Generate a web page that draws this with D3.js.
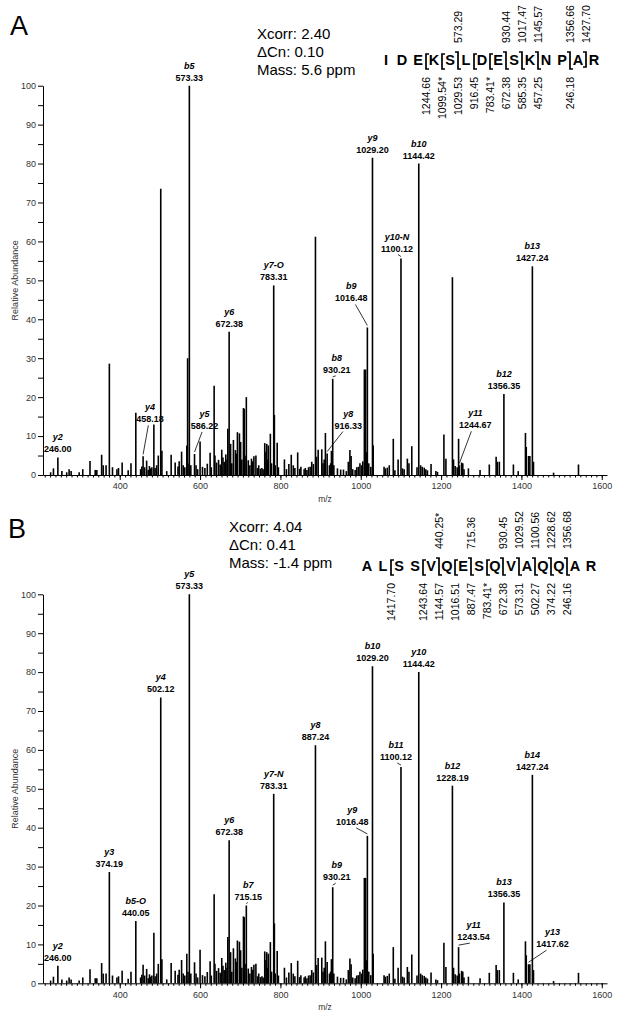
<!DOCTYPE html>
<html><head><meta charset="utf-8">
<script src="https://cdn.jsdelivr.net/npm/d3@7"></script>
<style>
body{margin:0;background:#fff;}
svg{display:block;font-family:"Liberation Sans",Arial,sans-serif;}
</style>
</head><body>
<svg id="c" width="622" height="1018"></svg>
<script>
// ---------------- DATA ----------------
// shared MS/MS spectrum (m/z, relative abundance)
const peakMz = [228,235,246.00,256,268,274,279,299,308,326,339,343,355,359,366,374.19,382,393,397,406,421,428,440.05,458.18,467,471,477,485,492,496,502.12,505,517,528,538,554,558,567,573.33,577,586.22,590,600,606,618,625,635,637,646,654,660,664,669,672.38,676,683,688,693,698,701,708,710,715.15,720,728,734,739,746,757,761,766,770,775,783.31,785,787,792,810,821,827,832,843,851,859,866,874,878,887.24,890,894,903,912,916.33,922,927,930.21,933,942,950,957,969,973,976,986,994,998,1002,1009,1012,1014,1016.48,1025,1029.20,1031,1058,1061,1066,1071,1081,1093,1100.12,1104,1116,1120,1127,1144.42,1149,1153,1158,1162,1175,1187,1191,1207,1212,1228.19,1231,1235,1243.54,1245.5,1251,1254,1268,1297,1320,1337,1340,1345,1356.35,1380,1392,1410,1412,1417.62,1421,1427.24,1430,1480,1542];
const peakInt = [0.7,1.7,4.5,1.0,0.7,1.5,1.0,0.7,1.5,3.6,1.3,1.3,5.2,2.5,2.5,28.6,2.0,1.5,1.8,3.2,1.2,3.0,16.0,4.8,3.7,1.3,1.7,13.0,2.5,5.0,73.5,6.2,1.0,5.2,3.2,6.0,2.5,7.6,100,2.5,5.4,2.5,8.6,2.1,2.9,5.7,22.9,5.0,3.9,6.5,3.4,5.3,11.9,36.8,8.0,9.0,6.4,11.0,10.7,8.5,17.2,17.0,20.0,3.8,4.2,4.8,5.0,2.5,1.5,8.2,8.0,7.6,10.6,48.7,15.4,2.5,8.3,4.0,2.8,5.2,2.5,5.8,2.1,1.5,1.3,2.1,3.4,61.2,4.7,6.5,6.6,10.8,5.5,2.5,6.2,24.7,2.5,1.7,1.4,1.4,3.4,6.4,4.9,1.3,2.1,3.0,2.5,27.1,27.1,5.9,37.9,2.1,81.5,7.6,2.1,1.7,1.9,2.5,9.3,4.0,55.6,1.7,4.2,3.0,7.4,80.0,2.5,2.1,1.9,1.5,2.8,1.0,0.8,10.4,4.2,50.8,4.0,2.3,9.3,2.5,3.2,3.0,1.7,1.3,2.7,4.7,3.4,3.4,20.8,2.7,1.0,10.8,7.2,4.9,4.9,53.6,3.4,0.6,2.7];
// low-level baseline peaks (dense region)
const smallMz = [452,455,462,474,480,488,545,548,562,570,594,612,628,641,650,657,667,679,690,704,712,724,731,743,750,754,764,768,778,795,815,836,848,862,870,882,906,909,925,964,980,990,1005,1020,1085,1108,1140,1166,1240,1257];
const smallInt = [1.5,2.2,2.0,2.3,2.0,1.8,2.2,3.5,2.0,3.0,1.5,1.8,2.0,3.2,2.7,4.5,4.0,3.0,5.5,4.0,5.0,2.5,3.5,1.8,1.6,1.8,6.0,4.0,3.0,2.0,1.5,1.8,1.6,1.8,2.0,2.8,3.0,4.0,3.0,1.0,1.5,2.0,3.5,3.0,1.2,1.5,2.0,1.2,2.0,1.5];
const extraMzA = [569];
const extraIntA = [30];

const xTickVals = [400,600,800,1000,1200,1400,1600];
const yTickVals = [0,10,20,30,40,50,60,70,80,90,100];

// panel A annotations
const annIonA  = ["y2","y4","b5","y5","y6","y7-O","y8","b8","b9","y9","y10-N","b10","y11","b12","b13"];
const annMzA   = [246.00,458.18,573.33,586.22,672.38,783.31,916.33,930.21,1016.48,1029.20,1100.12,1144.42,1244.67,1356.35,1427.24];
const annTextA = ["246.00","458.18","573.33","586.22","672.38","783.31","916.33","930.21","1016.48","1029.20","1100.12","1144.42","1244.67","1356.35","1427.24"];
// panel B annotations
const annIonB  = ["y2","y3","b5-O","y4","y5","y6","b7","y7-N","y8","b9","y9","b10","b11","y10","b12","y11","b13","y13","b14"];
const annMzB   = [246.00,374.19,440.05,502.12,573.33,672.38,715.15,783.31,887.24,930.21,1016.48,1029.20,1100.12,1144.42,1228.19,1243.54,1356.35,1417.62,1427.24];
const annTextB = ["246.00","374.19","440.05","502.12","573.33","672.38","715.15","783.31","887.24","930.21","1016.48","1029.20","1100.12","1144.42","1228.19","1243.54","1356.35","1417.62","1427.24"];

const scoreA = ["Xcorr: 2.40","\u0394Cn: 0.10","Mass: 5.6 ppm"];
const scoreB = ["Xcorr: 4.04","\u0394Cn: 0.41","Mass: -1.4 ppm"];

const seqA = "IDEKSLDESKNPAR";
const bCutA = [4,7,8,9,11,12];
const bTextA = ["573.29","930.44","1017.47","1145.57","1356.66","1427.70"];
const yCutA = [2,3,4,5,6,7,8,9,11];
const yTextA = ["1244.66","1099.54*","1029.53","916.45","783.41*","672.38","585.35","457.25","246.18"];

const seqB = "ALSSVQESQVAQQAR";
const bCutB = [4,6,8,9,10,11,12];
const bTextB = ["440.25*","715.36","930.45","1029.52","1100.56","1228.62","1356.68"];
const yCutB = [1,3,4,5,6,7,8,9,10,11,12];
const yTextB = ["1417.70","1243.64","1144.57","1016.51","887.47","783.41*","672.38","573.31","502.27","374.22","246.16"];

// ---------------- LAYOUT ----------------
const layoutA = {"y4":[7,-34],"y5":[10,-25],"y8":[21,-25],"b8":[4,-6],"b9":[-16,-26],"y10-N":[-4,-7],"y11":[16,-37]};
const layoutB = {"b7":[2,-6],"y9":[-15,-11],"b9":[4,-7],"b11":[-5,-7],"y11":[15,-7],"y13":[24,-17]};

const svg = d3.select("#c");
const x = d3.scaleLinear().domain([209,1613]).range([43,607]);

function panel(cfg){
  const g = svg.append("g");
  const y = d3.scaleLinear().domain([0,100]).range([cfg.bottom,cfg.top]);
  const peaks = peakMz.map((m,i)=>({mz:m,v:peakInt[i]}))
    .concat(cfg.extraMz.map((m,i)=>({mz:m,v:cfg.extraInt[i]})));
  const small = smallMz.map((m,i)=>({mz:m,v:smallInt[i]}));

  g.append("g").selectAll("line").data(small.concat(peaks)).join("line")
    .attr("x1",d=>x(d.mz)).attr("x2",d=>x(d.mz))
    .attr("y1",y(0)).attr("y2",d=>y(d.v))
    .attr("stroke","#000").attr("stroke-width",1.6);

  // y axis
  g.append("g").attr("transform","translate(43,0)")
    .call(d3.axisLeft(y).tickValues(yTickVals).tickSize(5).tickSizeOuter(0).tickPadding(2).tickFormat(d3.format("d")));
  g.append("g").attr("transform","translate(43,0)")
    .call(d3.axisLeft(y).tickValues(d3.range(5,100,10)).tickSize(5).tickSizeOuter(0).tickFormat(""))
    .select(".domain").remove();
  // x axis
  g.append("g").attr("transform",`translate(0,${y(0)})`)
    .call(d3.axisBottom(x).tickValues(xTickVals).tickSize(5).tickSizeOuter(0).tickPadding(3).tickFormat(d3.format("d")));
  g.append("g").attr("transform",`translate(0,${y(0)})`)
    .call(d3.axisBottom(x).tickValues(d3.range(1600-200/15*105,1613,200/15).filter(v=>v>=210)).tickSize(2.5).tickSizeOuter(0).tickFormat(""))
    .select(".domain").remove();
  g.selectAll(".tick text").attr("font-size",9).attr("fill","#333").attr("font-family","Liberation Sans, Arial, sans-serif");
  g.selectAll(".domain,.tick line").attr("stroke","#000");

  g.append("text").attr("transform",`translate(15,${(y(0)+y(100))/2}) rotate(-90)`)
    .attr("text-anchor","middle").attr("dy","0.35em").attr("font-size",9).attr("fill","#333")
    .text("Relative Abundance");
  g.append("text").attr("x",325).attr("y",y(0)+27).attr("text-anchor","middle")
    .attr("font-size",8.5).attr("fill","#333").text("m/z");

  // annotations
  function nearestTop(mz){
    let best = peaks[0];
    peaks.forEach(p=>{ if(Math.abs(p.mz-mz)<Math.abs(best.mz-mz)) best=p; });
    return {px:x(best.mz), top:y(best.v)};
  }
  cfg.annIon.forEach((ion,i)=>{
    const t = nearestTop(cfg.annMz[i]);
    const off = cfg.layout[ion];
    const dx = off?off[0]:0, dy = off?off[1]:-5;
    const lx = t.px+dx, vb = t.top+dy;
    if(off){
      g.append("line").attr("x1",t.px).attr("y1",t.top-2)
        .attr("x2",lx-dx*0.25).attr("y2",vb+3)
        .attr("stroke","#000").attr("stroke-width",0.8);
    }
    g.append("text").attr("x",lx).attr("y",vb).attr("text-anchor","middle")
      .attr("font-size",9).attr("font-weight","bold").text(cfg.annText[i]);
    g.append("text").attr("x",lx).attr("y",vb-12).attr("text-anchor","middle")
      .attr("font-size",9).attr("font-weight","bold").attr("font-style","italic").text(ion);
  });

  // panel letter and scores
  svg.append("text").attr("x",cfg.letterX).attr("y",cfg.letterY).attr("font-size",27).text(cfg.letter);
  svg.append("g").selectAll("text").data(cfg.score).join("text")
    .attr("x",cfg.scoreX).attr("y",(d,i)=>cfg.scoreY+i*17.8).attr("font-size",15).text(d=>d);

  // sequence
  const seq = cfg.seq.split("");
  const sx = d3.scalePoint().domain(d3.range(seq.length)).range([cfg.seqX, cfg.seqX+(seq.length-1)*16]);
  const bl = cfg.seqBase;
  const sg = svg.append("g");
  sg.selectAll("text").data(seq).join("text")
    .attr("x",(d,i)=>sx(i)).attr("y",bl).attr("text-anchor","middle")
    .attr("font-size",14.5).attr("font-weight","bold").text(d=>d);
  const cuts = Array.from(new Set(cfg.bCut.concat(cfg.yCut))).sort((a,b)=>a-b);
  cuts.forEach(c=>{
    const cx = sx(c)+8;
    const hasB = cfg.bCut.includes(c), hasY = cfg.yCut.includes(c);
    let p;
    if(hasB && hasY) p = `M${cx-3},${bl-13}H${cx}V${bl+4}H${cx+3}`;
    else if(hasY) p = `M${cx+3},${bl-11}H${cx}V${bl+4}H${cx+3}`;
    else p = `M${cx-3},${bl-13}H${cx}V${bl+2}H${cx-3}`;
    sg.append("path").attr("d",p).attr("fill","none").attr("stroke","#000").attr("stroke-width",1.7);
  });
  cfg.bCut.forEach((c,i)=>{
    sg.append("text").attr("transform",`translate(${sx(c)+8},${bl-22}) rotate(-90)`)
      .attr("dy","0.35em").attr("text-anchor","start").attr("font-size",10.5).text(cfg.bText[i]);
  });
  cfg.yCut.forEach((c,i)=>{
    sg.append("text").attr("transform",`translate(${sx(c)+8},${bl+12}) rotate(-90)`)
      .attr("dy","0.35em").attr("text-anchor","end").attr("font-size",10.5).text(cfg.yText[i]);
  });
}

panel({top:85.7,bottom:475,extraMz:extraMzA,extraInt:extraIntA,
  annIon:annIonA,annMz:annMzA,annText:annTextA,layout:layoutA,
  letter:"A",letterX:10,letterY:35,score:scoreA,scoreX:257,scoreY:39,
  seq:seqA,seqX:386,seqBase:65,bCut:bCutA,bText:bTextA,yCut:yCutA,yText:yTextA});
panel({top:594.3,bottom:983.3,extraMz:[],extraInt:[],
  annIon:annIonB,annMz:annMzB,annText:annTextB,layout:layoutB,
  letter:"B",letterX:8,letterY:538,score:scoreB,scoreX:229,scoreY:532,
  seq:seqB,seqX:367,seqBase:571,bCut:bCutB,bText:bTextB,yCut:yCutB,yText:yTextB});
</script>
</body></html>
